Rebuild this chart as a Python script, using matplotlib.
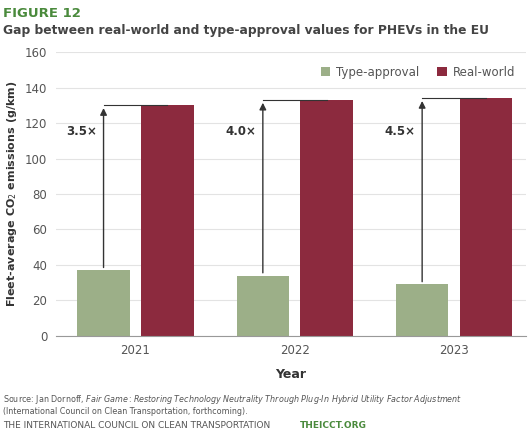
import matplotlib.pyplot as plt
import numpy as np

years = ["2021", "2022", "2023"]
type_approval = [37, 34, 29]
real_world = [130, 133, 134]
ratios = ["3.5×", "4.0×", "4.5×"]

green = "#9caf88"
red = "#8c2a3e"
grey = "#555555"

fig = plt.figure(figsize=(5.31, 4.34), dpi=100)
ax = fig.add_axes([0.105, 0.226, 0.885, 0.654])

x = np.arange(len(years))
w = 0.33
ax.bar(x - 0.2, type_approval, w, color=green, label="Type-approval", zorder=2)
ax.bar(x + 0.2, real_world, w, color=red, label="Real-world", zorder=2)

for i in range(len(years)):
    ax.annotate("", xy=(x[i] - 0.2, real_world[i]), xytext=(x[i] - 0.2, type_approval[i]),
                arrowprops=dict(arrowstyle="-|>", color="#333333", lw=1, mutation_scale=10), zorder=3)
    ax.plot([x[i] - 0.2, x[i] + 0.2], [real_world[i], real_world[i]], color="#333333", lw=0.8, zorder=3)
    ax.text(x[i] - 0.24, 115, ratios[i], ha="right", va="center", fontsize=8.5,
            fontweight="bold", color="#333333")

ax.set_xlim(-0.5, 2.45)
ax.set_ylim(0, 160)
ax.set_yticks(range(0, 161, 20))
ax.set_xticks(x)
ax.set_xticklabels(years)
ax.grid(axis="y", color="#e3e3e3", lw=0.8, zorder=0)
for s in ["top", "right", "left"]:
    ax.spines[s].set_visible(False)
ax.spines["bottom"].set_color("#999999")
ax.tick_params(axis="both", length=0, labelsize=8.5, colors=grey, pad=6)
ax.set_xlabel("Year", fontsize=9, fontweight="bold", color="#333333", labelpad=8)
ax.set_ylabel("Fleet-average CO$_2$ emissions (g/km)", fontsize=8, fontweight="bold",
              color="#333333", labelpad=4)
ax.legend(loc="upper right", bbox_to_anchor=(1.0, 0.99), ncol=2, frameon=False, fontsize=8.5,
          handlelength=0.8, handleheight=0.8, columnspacing=1.5, handletextpad=0.5, labelcolor=grey)

fig.text(0.005, 0.985, "FIGURE 12", fontsize=9.5, fontweight="bold", color="#4a8a3c", va="top")
fig.text(0.005, 0.945, "Gap between real-world and type-approval values for PHEVs in the EU",
         fontsize=8.8, fontweight="bold", color="#444444", va="top")
fig.text(0.005, 0.095, "Source: Jan Dornoff, $\\it{Fair\\ Game: Restoring\\ Technology\\ Neutrality\\ Through\\ Plug}$-$\\it{In\\ Hybrid\\ Utility\\ Factor\\ Adjustment}$\n(International Council on Clean Transportation, forthcoming).",
         fontsize=5.8, color="#555555", va="top")
fig.text(0.005, 0.01, "THE INTERNATIONAL COUNCIL ON CLEAN TRANSPORTATION", fontsize=6.5, color="#555555", va="bottom")
fig.text(0.565, 0.01, "THEICCT.ORG", fontsize=6.5, color="#4a8a3c", fontweight="bold", va="bottom")

fig.savefig("out.png", dpi=100)
